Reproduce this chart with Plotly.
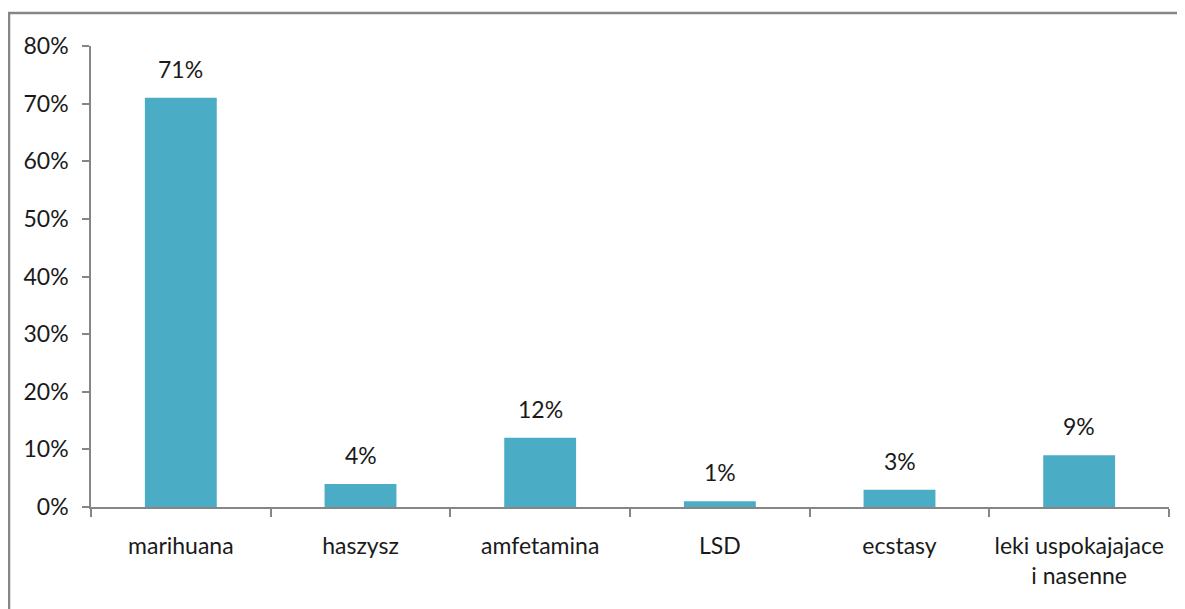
import plotly.graph_objects as go

categories = ["marihuana", "haszysz", "amfetamina", "LSD", "ecstasy", "leki uspokajajace<br>i nasenne"]
values = [71, 4, 12, 1, 3, 9]
tick_vals = [0, 10, 20, 30, 40, 50, 60, 70, 80]
tick_text = [f"{v}%" for v in tick_vals]

# page body has an 8px margin, so the figure is offset by 8px
W, H = 1177, 601
L, R, T, B = 83, 16, 38, 102
pw, ph = W - L - R, H - T - B

FONT = "Lato, Open Sans, sans-serif"
AX = "#868686"
FS = 23
TXT = "#1a1a1a"

fig = go.Figure(go.Bar(
    x=categories, y=values,
    marker=dict(color="#4BACC6", line=dict(width=0)),
    width=0.4,
    hoverinfo="skip",
))

for c, v in zip(categories, values):
    fig.add_annotation(x=c, y=v, text=f"{v}%", showarrow=False,
                       yanchor="bottom", yshift=13,
                       font=dict(family=FONT, size=FS, color=TXT))

# outer chart border (chart area frame)
fig.add_shape(type="rect", xref="paper", yref="paper",
              x0=(1 - L) / pw, x1=(W + 10 - L) / pw,
              y0=-(H + 10 - T - ph) / ph, y1=1 + (T - 5) / ph,
              line=dict(color=AX, width=2.5), layer="below")

fig.update_layout(
    width=W, height=H,
    margin=dict(l=L, r=R, t=T, b=B, pad=0),
    plot_bgcolor="white", paper_bgcolor="white",
    showlegend=False,
    font=dict(family=FONT, size=FS, color=TXT),
    xaxis=dict(
        showline=True, linecolor=AX, linewidth=1.5,
        ticks="outside", tickson="boundaries", ticklen=8, tickcolor=AX, tickwidth=1.5,
        showgrid=False, tickfont=dict(size=FS, color=TXT),
        ticklabelstandoff=18,
    ),
    yaxis=dict(
        range=[0, 80], tickvals=tick_vals, ticktext=tick_text,
        showline=True, linecolor=AX, linewidth=1.5,
        ticks="outside", ticklen=7, tickcolor=AX, tickwidth=1.5,
        showgrid=False, zeroline=False, tickfont=dict(size=FS, color=TXT),
        ticklabelstandoff=9,
    ),
)

fig.write_html("out.html")
